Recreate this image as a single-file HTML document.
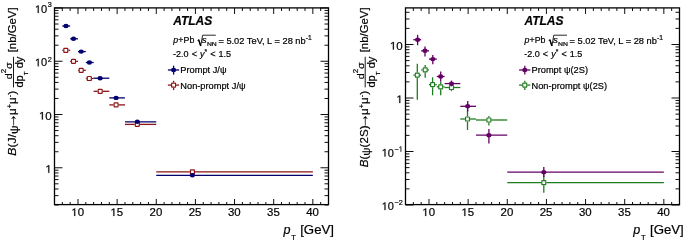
<!DOCTYPE html>
<html><head><meta charset="utf-8"><style>
html,body{margin:0;padding:0;background:#fff;}
body{width:685px;height:244px;overflow:hidden;}
svg{display:block;font-family:"Liberation Sans", sans-serif;will-change:transform;}
text{fill:#000;stroke:#000;stroke-width:0.2px;}
</style></head><body>
<svg width="685" height="244" viewBox="0 0 685 244">
<g>
<rect x="54.5" y="7.9" width="274.0" height="196.7" fill="none" stroke="#000" stroke-width="1.3"/>
<line x1="62.33" y1="205.00" x2="62.33" y2="202.00" stroke="#000" stroke-width="0.95"/>
<line x1="62.33" y1="8.00" x2="62.33" y2="11.00" stroke="#000" stroke-width="0.95"/>
<line x1="70.16" y1="205.00" x2="70.16" y2="202.00" stroke="#000" stroke-width="0.95"/>
<line x1="70.16" y1="8.00" x2="70.16" y2="11.00" stroke="#000" stroke-width="0.95"/>
<line x1="77.99" y1="205.00" x2="77.99" y2="199.00" stroke="#000" stroke-width="0.95"/>
<line x1="77.99" y1="8.00" x2="77.99" y2="14.00" stroke="#000" stroke-width="0.95"/>
<line x1="85.81" y1="205.00" x2="85.81" y2="202.00" stroke="#000" stroke-width="0.95"/>
<line x1="85.81" y1="8.00" x2="85.81" y2="11.00" stroke="#000" stroke-width="0.95"/>
<line x1="93.64" y1="205.00" x2="93.64" y2="202.00" stroke="#000" stroke-width="0.95"/>
<line x1="93.64" y1="8.00" x2="93.64" y2="11.00" stroke="#000" stroke-width="0.95"/>
<line x1="101.47" y1="205.00" x2="101.47" y2="202.00" stroke="#000" stroke-width="0.95"/>
<line x1="101.47" y1="8.00" x2="101.47" y2="11.00" stroke="#000" stroke-width="0.95"/>
<line x1="109.30" y1="205.00" x2="109.30" y2="202.00" stroke="#000" stroke-width="0.95"/>
<line x1="109.30" y1="8.00" x2="109.30" y2="11.00" stroke="#000" stroke-width="0.95"/>
<line x1="117.13" y1="205.00" x2="117.13" y2="199.00" stroke="#000" stroke-width="0.95"/>
<line x1="117.13" y1="8.00" x2="117.13" y2="14.00" stroke="#000" stroke-width="0.95"/>
<line x1="124.96" y1="205.00" x2="124.96" y2="202.00" stroke="#000" stroke-width="0.95"/>
<line x1="124.96" y1="8.00" x2="124.96" y2="11.00" stroke="#000" stroke-width="0.95"/>
<line x1="132.79" y1="205.00" x2="132.79" y2="202.00" stroke="#000" stroke-width="0.95"/>
<line x1="132.79" y1="8.00" x2="132.79" y2="11.00" stroke="#000" stroke-width="0.95"/>
<line x1="140.61" y1="205.00" x2="140.61" y2="202.00" stroke="#000" stroke-width="0.95"/>
<line x1="140.61" y1="8.00" x2="140.61" y2="11.00" stroke="#000" stroke-width="0.95"/>
<line x1="148.44" y1="205.00" x2="148.44" y2="202.00" stroke="#000" stroke-width="0.95"/>
<line x1="148.44" y1="8.00" x2="148.44" y2="11.00" stroke="#000" stroke-width="0.95"/>
<line x1="156.27" y1="205.00" x2="156.27" y2="199.00" stroke="#000" stroke-width="0.95"/>
<line x1="156.27" y1="8.00" x2="156.27" y2="14.00" stroke="#000" stroke-width="0.95"/>
<line x1="164.10" y1="205.00" x2="164.10" y2="202.00" stroke="#000" stroke-width="0.95"/>
<line x1="164.10" y1="8.00" x2="164.10" y2="11.00" stroke="#000" stroke-width="0.95"/>
<line x1="171.93" y1="205.00" x2="171.93" y2="202.00" stroke="#000" stroke-width="0.95"/>
<line x1="171.93" y1="8.00" x2="171.93" y2="11.00" stroke="#000" stroke-width="0.95"/>
<line x1="179.76" y1="205.00" x2="179.76" y2="202.00" stroke="#000" stroke-width="0.95"/>
<line x1="179.76" y1="8.00" x2="179.76" y2="11.00" stroke="#000" stroke-width="0.95"/>
<line x1="187.59" y1="205.00" x2="187.59" y2="202.00" stroke="#000" stroke-width="0.95"/>
<line x1="187.59" y1="8.00" x2="187.59" y2="11.00" stroke="#000" stroke-width="0.95"/>
<line x1="195.41" y1="205.00" x2="195.41" y2="199.00" stroke="#000" stroke-width="0.95"/>
<line x1="195.41" y1="8.00" x2="195.41" y2="14.00" stroke="#000" stroke-width="0.95"/>
<line x1="203.24" y1="205.00" x2="203.24" y2="202.00" stroke="#000" stroke-width="0.95"/>
<line x1="203.24" y1="8.00" x2="203.24" y2="11.00" stroke="#000" stroke-width="0.95"/>
<line x1="211.07" y1="205.00" x2="211.07" y2="202.00" stroke="#000" stroke-width="0.95"/>
<line x1="211.07" y1="8.00" x2="211.07" y2="11.00" stroke="#000" stroke-width="0.95"/>
<line x1="218.90" y1="205.00" x2="218.90" y2="202.00" stroke="#000" stroke-width="0.95"/>
<line x1="218.90" y1="8.00" x2="218.90" y2="11.00" stroke="#000" stroke-width="0.95"/>
<line x1="226.73" y1="205.00" x2="226.73" y2="202.00" stroke="#000" stroke-width="0.95"/>
<line x1="226.73" y1="8.00" x2="226.73" y2="11.00" stroke="#000" stroke-width="0.95"/>
<line x1="234.56" y1="205.00" x2="234.56" y2="199.00" stroke="#000" stroke-width="0.95"/>
<line x1="234.56" y1="8.00" x2="234.56" y2="14.00" stroke="#000" stroke-width="0.95"/>
<line x1="242.39" y1="205.00" x2="242.39" y2="202.00" stroke="#000" stroke-width="0.95"/>
<line x1="242.39" y1="8.00" x2="242.39" y2="11.00" stroke="#000" stroke-width="0.95"/>
<line x1="250.21" y1="205.00" x2="250.21" y2="202.00" stroke="#000" stroke-width="0.95"/>
<line x1="250.21" y1="8.00" x2="250.21" y2="11.00" stroke="#000" stroke-width="0.95"/>
<line x1="258.04" y1="205.00" x2="258.04" y2="202.00" stroke="#000" stroke-width="0.95"/>
<line x1="258.04" y1="8.00" x2="258.04" y2="11.00" stroke="#000" stroke-width="0.95"/>
<line x1="265.87" y1="205.00" x2="265.87" y2="202.00" stroke="#000" stroke-width="0.95"/>
<line x1="265.87" y1="8.00" x2="265.87" y2="11.00" stroke="#000" stroke-width="0.95"/>
<line x1="273.70" y1="205.00" x2="273.70" y2="199.00" stroke="#000" stroke-width="0.95"/>
<line x1="273.70" y1="8.00" x2="273.70" y2="14.00" stroke="#000" stroke-width="0.95"/>
<line x1="281.53" y1="205.00" x2="281.53" y2="202.00" stroke="#000" stroke-width="0.95"/>
<line x1="281.53" y1="8.00" x2="281.53" y2="11.00" stroke="#000" stroke-width="0.95"/>
<line x1="289.36" y1="205.00" x2="289.36" y2="202.00" stroke="#000" stroke-width="0.95"/>
<line x1="289.36" y1="8.00" x2="289.36" y2="11.00" stroke="#000" stroke-width="0.95"/>
<line x1="297.19" y1="205.00" x2="297.19" y2="202.00" stroke="#000" stroke-width="0.95"/>
<line x1="297.19" y1="8.00" x2="297.19" y2="11.00" stroke="#000" stroke-width="0.95"/>
<line x1="305.01" y1="205.00" x2="305.01" y2="202.00" stroke="#000" stroke-width="0.95"/>
<line x1="305.01" y1="8.00" x2="305.01" y2="11.00" stroke="#000" stroke-width="0.95"/>
<line x1="312.84" y1="205.00" x2="312.84" y2="199.00" stroke="#000" stroke-width="0.95"/>
<line x1="312.84" y1="8.00" x2="312.84" y2="14.00" stroke="#000" stroke-width="0.95"/>
<line x1="320.67" y1="205.00" x2="320.67" y2="202.00" stroke="#000" stroke-width="0.95"/>
<line x1="320.67" y1="8.00" x2="320.67" y2="11.00" stroke="#000" stroke-width="0.95"/>
<g transform="translate(71.32 216.00) scale(1.06 1)"><path transform="translate(0.000 0) scale(0.00527 -0.00527)" d="M515,0 L515,1237 L197,1010 L197,1180 L530,1409 L696,1409 L696,0 Z" fill="#000" stroke="#000" stroke-width="37.9"/><text x="6.01" y="0" font-size="10.8">0</text></g>
<g transform="translate(110.46 216.00) scale(1.06 1)"><path transform="translate(0.000 0) scale(0.00527 -0.00527)" d="M515,0 L515,1237 L197,1010 L197,1180 L530,1409 L696,1409 L696,0 Z" fill="#000" stroke="#000" stroke-width="37.9"/><text x="6.01" y="0" font-size="10.8">5</text></g>
<g transform="translate(149.60 216.00) scale(1.06 1)"><text x="0.00" y="0" font-size="10.8">20</text></g>
<g transform="translate(188.75 216.00) scale(1.06 1)"><text x="0.00" y="0" font-size="10.8">25</text></g>
<g transform="translate(227.89 216.00) scale(1.06 1)"><text x="0.00" y="0" font-size="10.8">30</text></g>
<g transform="translate(267.03 216.00) scale(1.06 1)"><text x="0.00" y="0" font-size="10.8">35</text></g>
<g transform="translate(306.18 216.00) scale(1.06 1)"><text x="0.00" y="0" font-size="10.8">40</text></g>
<line x1="54.50" y1="205.00" x2="58.50" y2="205.00" stroke="#000" stroke-width="0.95"/>
<line x1="328.50" y1="205.00" x2="324.50" y2="205.00" stroke="#000" stroke-width="0.95"/>
<line x1="54.50" y1="195.62" x2="58.50" y2="195.62" stroke="#000" stroke-width="0.95"/>
<line x1="328.50" y1="195.62" x2="324.50" y2="195.62" stroke="#000" stroke-width="0.95"/>
<line x1="54.50" y1="188.97" x2="58.50" y2="188.97" stroke="#000" stroke-width="0.95"/>
<line x1="328.50" y1="188.97" x2="324.50" y2="188.97" stroke="#000" stroke-width="0.95"/>
<line x1="54.50" y1="183.81" x2="58.50" y2="183.81" stroke="#000" stroke-width="0.95"/>
<line x1="328.50" y1="183.81" x2="324.50" y2="183.81" stroke="#000" stroke-width="0.95"/>
<line x1="54.50" y1="179.59" x2="58.50" y2="179.59" stroke="#000" stroke-width="0.95"/>
<line x1="328.50" y1="179.59" x2="324.50" y2="179.59" stroke="#000" stroke-width="0.95"/>
<line x1="54.50" y1="176.02" x2="58.50" y2="176.02" stroke="#000" stroke-width="0.95"/>
<line x1="328.50" y1="176.02" x2="324.50" y2="176.02" stroke="#000" stroke-width="0.95"/>
<line x1="54.50" y1="172.94" x2="58.50" y2="172.94" stroke="#000" stroke-width="0.95"/>
<line x1="328.50" y1="172.94" x2="324.50" y2="172.94" stroke="#000" stroke-width="0.95"/>
<line x1="54.50" y1="170.21" x2="58.50" y2="170.21" stroke="#000" stroke-width="0.95"/>
<line x1="328.50" y1="170.21" x2="324.50" y2="170.21" stroke="#000" stroke-width="0.95"/>
<line x1="54.50" y1="167.77" x2="62.50" y2="167.77" stroke="#000" stroke-width="0.95"/>
<line x1="328.50" y1="167.77" x2="320.50" y2="167.77" stroke="#000" stroke-width="0.95"/>
<line x1="54.50" y1="151.74" x2="58.50" y2="151.74" stroke="#000" stroke-width="0.95"/>
<line x1="328.50" y1="151.74" x2="324.50" y2="151.74" stroke="#000" stroke-width="0.95"/>
<line x1="54.50" y1="142.36" x2="58.50" y2="142.36" stroke="#000" stroke-width="0.95"/>
<line x1="328.50" y1="142.36" x2="324.50" y2="142.36" stroke="#000" stroke-width="0.95"/>
<line x1="54.50" y1="135.71" x2="58.50" y2="135.71" stroke="#000" stroke-width="0.95"/>
<line x1="328.50" y1="135.71" x2="324.50" y2="135.71" stroke="#000" stroke-width="0.95"/>
<line x1="54.50" y1="130.55" x2="58.50" y2="130.55" stroke="#000" stroke-width="0.95"/>
<line x1="328.50" y1="130.55" x2="324.50" y2="130.55" stroke="#000" stroke-width="0.95"/>
<line x1="54.50" y1="126.33" x2="58.50" y2="126.33" stroke="#000" stroke-width="0.95"/>
<line x1="328.50" y1="126.33" x2="324.50" y2="126.33" stroke="#000" stroke-width="0.95"/>
<line x1="54.50" y1="122.77" x2="58.50" y2="122.77" stroke="#000" stroke-width="0.95"/>
<line x1="328.50" y1="122.77" x2="324.50" y2="122.77" stroke="#000" stroke-width="0.95"/>
<line x1="54.50" y1="119.68" x2="58.50" y2="119.68" stroke="#000" stroke-width="0.95"/>
<line x1="328.50" y1="119.68" x2="324.50" y2="119.68" stroke="#000" stroke-width="0.95"/>
<line x1="54.50" y1="116.95" x2="58.50" y2="116.95" stroke="#000" stroke-width="0.95"/>
<line x1="328.50" y1="116.95" x2="324.50" y2="116.95" stroke="#000" stroke-width="0.95"/>
<line x1="54.50" y1="114.52" x2="62.50" y2="114.52" stroke="#000" stroke-width="0.95"/>
<line x1="328.50" y1="114.52" x2="320.50" y2="114.52" stroke="#000" stroke-width="0.95"/>
<line x1="54.50" y1="98.48" x2="58.50" y2="98.48" stroke="#000" stroke-width="0.95"/>
<line x1="328.50" y1="98.48" x2="324.50" y2="98.48" stroke="#000" stroke-width="0.95"/>
<line x1="54.50" y1="89.11" x2="58.50" y2="89.11" stroke="#000" stroke-width="0.95"/>
<line x1="328.50" y1="89.11" x2="324.50" y2="89.11" stroke="#000" stroke-width="0.95"/>
<line x1="54.50" y1="82.45" x2="58.50" y2="82.45" stroke="#000" stroke-width="0.95"/>
<line x1="328.50" y1="82.45" x2="324.50" y2="82.45" stroke="#000" stroke-width="0.95"/>
<line x1="54.50" y1="77.29" x2="58.50" y2="77.29" stroke="#000" stroke-width="0.95"/>
<line x1="328.50" y1="77.29" x2="324.50" y2="77.29" stroke="#000" stroke-width="0.95"/>
<line x1="54.50" y1="73.07" x2="58.50" y2="73.07" stroke="#000" stroke-width="0.95"/>
<line x1="328.50" y1="73.07" x2="324.50" y2="73.07" stroke="#000" stroke-width="0.95"/>
<line x1="54.50" y1="69.51" x2="58.50" y2="69.51" stroke="#000" stroke-width="0.95"/>
<line x1="328.50" y1="69.51" x2="324.50" y2="69.51" stroke="#000" stroke-width="0.95"/>
<line x1="54.50" y1="66.42" x2="58.50" y2="66.42" stroke="#000" stroke-width="0.95"/>
<line x1="328.50" y1="66.42" x2="324.50" y2="66.42" stroke="#000" stroke-width="0.95"/>
<line x1="54.50" y1="63.70" x2="58.50" y2="63.70" stroke="#000" stroke-width="0.95"/>
<line x1="328.50" y1="63.70" x2="324.50" y2="63.70" stroke="#000" stroke-width="0.95"/>
<line x1="54.50" y1="61.26" x2="62.50" y2="61.26" stroke="#000" stroke-width="0.95"/>
<line x1="328.50" y1="61.26" x2="320.50" y2="61.26" stroke="#000" stroke-width="0.95"/>
<line x1="54.50" y1="45.23" x2="58.50" y2="45.23" stroke="#000" stroke-width="0.95"/>
<line x1="328.50" y1="45.23" x2="324.50" y2="45.23" stroke="#000" stroke-width="0.95"/>
<line x1="54.50" y1="35.85" x2="58.50" y2="35.85" stroke="#000" stroke-width="0.95"/>
<line x1="328.50" y1="35.85" x2="324.50" y2="35.85" stroke="#000" stroke-width="0.95"/>
<line x1="54.50" y1="29.19" x2="58.50" y2="29.19" stroke="#000" stroke-width="0.95"/>
<line x1="328.50" y1="29.19" x2="324.50" y2="29.19" stroke="#000" stroke-width="0.95"/>
<line x1="54.50" y1="24.03" x2="58.50" y2="24.03" stroke="#000" stroke-width="0.95"/>
<line x1="328.50" y1="24.03" x2="324.50" y2="24.03" stroke="#000" stroke-width="0.95"/>
<line x1="54.50" y1="19.82" x2="58.50" y2="19.82" stroke="#000" stroke-width="0.95"/>
<line x1="328.50" y1="19.82" x2="324.50" y2="19.82" stroke="#000" stroke-width="0.95"/>
<line x1="54.50" y1="16.25" x2="58.50" y2="16.25" stroke="#000" stroke-width="0.95"/>
<line x1="328.50" y1="16.25" x2="324.50" y2="16.25" stroke="#000" stroke-width="0.95"/>
<line x1="54.50" y1="13.16" x2="58.50" y2="13.16" stroke="#000" stroke-width="0.95"/>
<line x1="328.50" y1="13.16" x2="324.50" y2="13.16" stroke="#000" stroke-width="0.95"/>
<line x1="54.50" y1="10.44" x2="58.50" y2="10.44" stroke="#000" stroke-width="0.95"/>
<line x1="328.50" y1="10.44" x2="324.50" y2="10.44" stroke="#000" stroke-width="0.95"/>
<line x1="54.50" y1="8.00" x2="62.50" y2="8.00" stroke="#000" stroke-width="0.95"/>
<line x1="328.50" y1="8.00" x2="320.50" y2="8.00" stroke="#000" stroke-width="0.95"/>
<rect x="405.5" y="7.9" width="274.0" height="196.7" fill="none" stroke="#000" stroke-width="1.3"/>
<line x1="413.33" y1="205.00" x2="413.33" y2="202.00" stroke="#000" stroke-width="0.95"/>
<line x1="413.33" y1="8.00" x2="413.33" y2="11.00" stroke="#000" stroke-width="0.95"/>
<line x1="421.16" y1="205.00" x2="421.16" y2="202.00" stroke="#000" stroke-width="0.95"/>
<line x1="421.16" y1="8.00" x2="421.16" y2="11.00" stroke="#000" stroke-width="0.95"/>
<line x1="428.99" y1="205.00" x2="428.99" y2="199.00" stroke="#000" stroke-width="0.95"/>
<line x1="428.99" y1="8.00" x2="428.99" y2="14.00" stroke="#000" stroke-width="0.95"/>
<line x1="436.81" y1="205.00" x2="436.81" y2="202.00" stroke="#000" stroke-width="0.95"/>
<line x1="436.81" y1="8.00" x2="436.81" y2="11.00" stroke="#000" stroke-width="0.95"/>
<line x1="444.64" y1="205.00" x2="444.64" y2="202.00" stroke="#000" stroke-width="0.95"/>
<line x1="444.64" y1="8.00" x2="444.64" y2="11.00" stroke="#000" stroke-width="0.95"/>
<line x1="452.47" y1="205.00" x2="452.47" y2="202.00" stroke="#000" stroke-width="0.95"/>
<line x1="452.47" y1="8.00" x2="452.47" y2="11.00" stroke="#000" stroke-width="0.95"/>
<line x1="460.30" y1="205.00" x2="460.30" y2="202.00" stroke="#000" stroke-width="0.95"/>
<line x1="460.30" y1="8.00" x2="460.30" y2="11.00" stroke="#000" stroke-width="0.95"/>
<line x1="468.13" y1="205.00" x2="468.13" y2="199.00" stroke="#000" stroke-width="0.95"/>
<line x1="468.13" y1="8.00" x2="468.13" y2="14.00" stroke="#000" stroke-width="0.95"/>
<line x1="475.96" y1="205.00" x2="475.96" y2="202.00" stroke="#000" stroke-width="0.95"/>
<line x1="475.96" y1="8.00" x2="475.96" y2="11.00" stroke="#000" stroke-width="0.95"/>
<line x1="483.79" y1="205.00" x2="483.79" y2="202.00" stroke="#000" stroke-width="0.95"/>
<line x1="483.79" y1="8.00" x2="483.79" y2="11.00" stroke="#000" stroke-width="0.95"/>
<line x1="491.61" y1="205.00" x2="491.61" y2="202.00" stroke="#000" stroke-width="0.95"/>
<line x1="491.61" y1="8.00" x2="491.61" y2="11.00" stroke="#000" stroke-width="0.95"/>
<line x1="499.44" y1="205.00" x2="499.44" y2="202.00" stroke="#000" stroke-width="0.95"/>
<line x1="499.44" y1="8.00" x2="499.44" y2="11.00" stroke="#000" stroke-width="0.95"/>
<line x1="507.27" y1="205.00" x2="507.27" y2="199.00" stroke="#000" stroke-width="0.95"/>
<line x1="507.27" y1="8.00" x2="507.27" y2="14.00" stroke="#000" stroke-width="0.95"/>
<line x1="515.10" y1="205.00" x2="515.10" y2="202.00" stroke="#000" stroke-width="0.95"/>
<line x1="515.10" y1="8.00" x2="515.10" y2="11.00" stroke="#000" stroke-width="0.95"/>
<line x1="522.93" y1="205.00" x2="522.93" y2="202.00" stroke="#000" stroke-width="0.95"/>
<line x1="522.93" y1="8.00" x2="522.93" y2="11.00" stroke="#000" stroke-width="0.95"/>
<line x1="530.76" y1="205.00" x2="530.76" y2="202.00" stroke="#000" stroke-width="0.95"/>
<line x1="530.76" y1="8.00" x2="530.76" y2="11.00" stroke="#000" stroke-width="0.95"/>
<line x1="538.59" y1="205.00" x2="538.59" y2="202.00" stroke="#000" stroke-width="0.95"/>
<line x1="538.59" y1="8.00" x2="538.59" y2="11.00" stroke="#000" stroke-width="0.95"/>
<line x1="546.41" y1="205.00" x2="546.41" y2="199.00" stroke="#000" stroke-width="0.95"/>
<line x1="546.41" y1="8.00" x2="546.41" y2="14.00" stroke="#000" stroke-width="0.95"/>
<line x1="554.24" y1="205.00" x2="554.24" y2="202.00" stroke="#000" stroke-width="0.95"/>
<line x1="554.24" y1="8.00" x2="554.24" y2="11.00" stroke="#000" stroke-width="0.95"/>
<line x1="562.07" y1="205.00" x2="562.07" y2="202.00" stroke="#000" stroke-width="0.95"/>
<line x1="562.07" y1="8.00" x2="562.07" y2="11.00" stroke="#000" stroke-width="0.95"/>
<line x1="569.90" y1="205.00" x2="569.90" y2="202.00" stroke="#000" stroke-width="0.95"/>
<line x1="569.90" y1="8.00" x2="569.90" y2="11.00" stroke="#000" stroke-width="0.95"/>
<line x1="577.73" y1="205.00" x2="577.73" y2="202.00" stroke="#000" stroke-width="0.95"/>
<line x1="577.73" y1="8.00" x2="577.73" y2="11.00" stroke="#000" stroke-width="0.95"/>
<line x1="585.56" y1="205.00" x2="585.56" y2="199.00" stroke="#000" stroke-width="0.95"/>
<line x1="585.56" y1="8.00" x2="585.56" y2="14.00" stroke="#000" stroke-width="0.95"/>
<line x1="593.39" y1="205.00" x2="593.39" y2="202.00" stroke="#000" stroke-width="0.95"/>
<line x1="593.39" y1="8.00" x2="593.39" y2="11.00" stroke="#000" stroke-width="0.95"/>
<line x1="601.21" y1="205.00" x2="601.21" y2="202.00" stroke="#000" stroke-width="0.95"/>
<line x1="601.21" y1="8.00" x2="601.21" y2="11.00" stroke="#000" stroke-width="0.95"/>
<line x1="609.04" y1="205.00" x2="609.04" y2="202.00" stroke="#000" stroke-width="0.95"/>
<line x1="609.04" y1="8.00" x2="609.04" y2="11.00" stroke="#000" stroke-width="0.95"/>
<line x1="616.87" y1="205.00" x2="616.87" y2="202.00" stroke="#000" stroke-width="0.95"/>
<line x1="616.87" y1="8.00" x2="616.87" y2="11.00" stroke="#000" stroke-width="0.95"/>
<line x1="624.70" y1="205.00" x2="624.70" y2="199.00" stroke="#000" stroke-width="0.95"/>
<line x1="624.70" y1="8.00" x2="624.70" y2="14.00" stroke="#000" stroke-width="0.95"/>
<line x1="632.53" y1="205.00" x2="632.53" y2="202.00" stroke="#000" stroke-width="0.95"/>
<line x1="632.53" y1="8.00" x2="632.53" y2="11.00" stroke="#000" stroke-width="0.95"/>
<line x1="640.36" y1="205.00" x2="640.36" y2="202.00" stroke="#000" stroke-width="0.95"/>
<line x1="640.36" y1="8.00" x2="640.36" y2="11.00" stroke="#000" stroke-width="0.95"/>
<line x1="648.19" y1="205.00" x2="648.19" y2="202.00" stroke="#000" stroke-width="0.95"/>
<line x1="648.19" y1="8.00" x2="648.19" y2="11.00" stroke="#000" stroke-width="0.95"/>
<line x1="656.01" y1="205.00" x2="656.01" y2="202.00" stroke="#000" stroke-width="0.95"/>
<line x1="656.01" y1="8.00" x2="656.01" y2="11.00" stroke="#000" stroke-width="0.95"/>
<line x1="663.84" y1="205.00" x2="663.84" y2="199.00" stroke="#000" stroke-width="0.95"/>
<line x1="663.84" y1="8.00" x2="663.84" y2="14.00" stroke="#000" stroke-width="0.95"/>
<line x1="671.67" y1="205.00" x2="671.67" y2="202.00" stroke="#000" stroke-width="0.95"/>
<line x1="671.67" y1="8.00" x2="671.67" y2="11.00" stroke="#000" stroke-width="0.95"/>
<g transform="translate(422.32 216.00) scale(1.06 1)"><path transform="translate(0.000 0) scale(0.00527 -0.00527)" d="M515,0 L515,1237 L197,1010 L197,1180 L530,1409 L696,1409 L696,0 Z" fill="#000" stroke="#000" stroke-width="37.9"/><text x="6.01" y="0" font-size="10.8">0</text></g>
<g transform="translate(461.46 216.00) scale(1.06 1)"><path transform="translate(0.000 0) scale(0.00527 -0.00527)" d="M515,0 L515,1237 L197,1010 L197,1180 L530,1409 L696,1409 L696,0 Z" fill="#000" stroke="#000" stroke-width="37.9"/><text x="6.01" y="0" font-size="10.8">5</text></g>
<g transform="translate(500.60 216.00) scale(1.06 1)"><text x="0.00" y="0" font-size="10.8">20</text></g>
<g transform="translate(539.75 216.00) scale(1.06 1)"><text x="0.00" y="0" font-size="10.8">25</text></g>
<g transform="translate(578.89 216.00) scale(1.06 1)"><text x="0.00" y="0" font-size="10.8">30</text></g>
<g transform="translate(618.03 216.00) scale(1.06 1)"><text x="0.00" y="0" font-size="10.8">35</text></g>
<g transform="translate(657.18 216.00) scale(1.06 1)"><text x="0.00" y="0" font-size="10.8">40</text></g>
<line x1="405.50" y1="205.00" x2="413.50" y2="205.00" stroke="#000" stroke-width="0.95"/>
<line x1="679.50" y1="205.00" x2="671.50" y2="205.00" stroke="#000" stroke-width="0.95"/>
<line x1="405.50" y1="188.89" x2="409.50" y2="188.89" stroke="#000" stroke-width="0.95"/>
<line x1="679.50" y1="188.89" x2="675.50" y2="188.89" stroke="#000" stroke-width="0.95"/>
<line x1="405.50" y1="179.47" x2="409.50" y2="179.47" stroke="#000" stroke-width="0.95"/>
<line x1="679.50" y1="179.47" x2="675.50" y2="179.47" stroke="#000" stroke-width="0.95"/>
<line x1="405.50" y1="172.79" x2="409.50" y2="172.79" stroke="#000" stroke-width="0.95"/>
<line x1="679.50" y1="172.79" x2="675.50" y2="172.79" stroke="#000" stroke-width="0.95"/>
<line x1="405.50" y1="167.61" x2="409.50" y2="167.61" stroke="#000" stroke-width="0.95"/>
<line x1="679.50" y1="167.61" x2="675.50" y2="167.61" stroke="#000" stroke-width="0.95"/>
<line x1="405.50" y1="163.37" x2="409.50" y2="163.37" stroke="#000" stroke-width="0.95"/>
<line x1="679.50" y1="163.37" x2="675.50" y2="163.37" stroke="#000" stroke-width="0.95"/>
<line x1="405.50" y1="159.79" x2="409.50" y2="159.79" stroke="#000" stroke-width="0.95"/>
<line x1="679.50" y1="159.79" x2="675.50" y2="159.79" stroke="#000" stroke-width="0.95"/>
<line x1="405.50" y1="156.68" x2="409.50" y2="156.68" stroke="#000" stroke-width="0.95"/>
<line x1="679.50" y1="156.68" x2="675.50" y2="156.68" stroke="#000" stroke-width="0.95"/>
<line x1="405.50" y1="153.95" x2="409.50" y2="153.95" stroke="#000" stroke-width="0.95"/>
<line x1="679.50" y1="153.95" x2="675.50" y2="153.95" stroke="#000" stroke-width="0.95"/>
<line x1="405.50" y1="151.50" x2="413.50" y2="151.50" stroke="#000" stroke-width="0.95"/>
<line x1="679.50" y1="151.50" x2="671.50" y2="151.50" stroke="#000" stroke-width="0.95"/>
<line x1="405.50" y1="135.39" x2="409.50" y2="135.39" stroke="#000" stroke-width="0.95"/>
<line x1="679.50" y1="135.39" x2="675.50" y2="135.39" stroke="#000" stroke-width="0.95"/>
<line x1="405.50" y1="125.97" x2="409.50" y2="125.97" stroke="#000" stroke-width="0.95"/>
<line x1="679.50" y1="125.97" x2="675.50" y2="125.97" stroke="#000" stroke-width="0.95"/>
<line x1="405.50" y1="119.29" x2="409.50" y2="119.29" stroke="#000" stroke-width="0.95"/>
<line x1="679.50" y1="119.29" x2="675.50" y2="119.29" stroke="#000" stroke-width="0.95"/>
<line x1="405.50" y1="114.11" x2="409.50" y2="114.11" stroke="#000" stroke-width="0.95"/>
<line x1="679.50" y1="114.11" x2="675.50" y2="114.11" stroke="#000" stroke-width="0.95"/>
<line x1="405.50" y1="109.87" x2="409.50" y2="109.87" stroke="#000" stroke-width="0.95"/>
<line x1="679.50" y1="109.87" x2="675.50" y2="109.87" stroke="#000" stroke-width="0.95"/>
<line x1="405.50" y1="106.29" x2="409.50" y2="106.29" stroke="#000" stroke-width="0.95"/>
<line x1="679.50" y1="106.29" x2="675.50" y2="106.29" stroke="#000" stroke-width="0.95"/>
<line x1="405.50" y1="103.18" x2="409.50" y2="103.18" stroke="#000" stroke-width="0.95"/>
<line x1="679.50" y1="103.18" x2="675.50" y2="103.18" stroke="#000" stroke-width="0.95"/>
<line x1="405.50" y1="100.45" x2="409.50" y2="100.45" stroke="#000" stroke-width="0.95"/>
<line x1="679.50" y1="100.45" x2="675.50" y2="100.45" stroke="#000" stroke-width="0.95"/>
<line x1="405.50" y1="98.00" x2="413.50" y2="98.00" stroke="#000" stroke-width="0.95"/>
<line x1="679.50" y1="98.00" x2="671.50" y2="98.00" stroke="#000" stroke-width="0.95"/>
<line x1="405.50" y1="81.89" x2="409.50" y2="81.89" stroke="#000" stroke-width="0.95"/>
<line x1="679.50" y1="81.89" x2="675.50" y2="81.89" stroke="#000" stroke-width="0.95"/>
<line x1="405.50" y1="72.47" x2="409.50" y2="72.47" stroke="#000" stroke-width="0.95"/>
<line x1="679.50" y1="72.47" x2="675.50" y2="72.47" stroke="#000" stroke-width="0.95"/>
<line x1="405.50" y1="65.79" x2="409.50" y2="65.79" stroke="#000" stroke-width="0.95"/>
<line x1="679.50" y1="65.79" x2="675.50" y2="65.79" stroke="#000" stroke-width="0.95"/>
<line x1="405.50" y1="60.61" x2="409.50" y2="60.61" stroke="#000" stroke-width="0.95"/>
<line x1="679.50" y1="60.61" x2="675.50" y2="60.61" stroke="#000" stroke-width="0.95"/>
<line x1="405.50" y1="56.37" x2="409.50" y2="56.37" stroke="#000" stroke-width="0.95"/>
<line x1="679.50" y1="56.37" x2="675.50" y2="56.37" stroke="#000" stroke-width="0.95"/>
<line x1="405.50" y1="52.79" x2="409.50" y2="52.79" stroke="#000" stroke-width="0.95"/>
<line x1="679.50" y1="52.79" x2="675.50" y2="52.79" stroke="#000" stroke-width="0.95"/>
<line x1="405.50" y1="49.68" x2="409.50" y2="49.68" stroke="#000" stroke-width="0.95"/>
<line x1="679.50" y1="49.68" x2="675.50" y2="49.68" stroke="#000" stroke-width="0.95"/>
<line x1="405.50" y1="46.95" x2="409.50" y2="46.95" stroke="#000" stroke-width="0.95"/>
<line x1="679.50" y1="46.95" x2="675.50" y2="46.95" stroke="#000" stroke-width="0.95"/>
<line x1="405.50" y1="44.50" x2="413.50" y2="44.50" stroke="#000" stroke-width="0.95"/>
<line x1="679.50" y1="44.50" x2="671.50" y2="44.50" stroke="#000" stroke-width="0.95"/>
<line x1="405.50" y1="28.39" x2="409.50" y2="28.39" stroke="#000" stroke-width="0.95"/>
<line x1="679.50" y1="28.39" x2="675.50" y2="28.39" stroke="#000" stroke-width="0.95"/>
<line x1="405.50" y1="18.97" x2="409.50" y2="18.97" stroke="#000" stroke-width="0.95"/>
<line x1="679.50" y1="18.97" x2="675.50" y2="18.97" stroke="#000" stroke-width="0.95"/>
<line x1="405.50" y1="12.29" x2="409.50" y2="12.29" stroke="#000" stroke-width="0.95"/>
<line x1="679.50" y1="12.29" x2="675.50" y2="12.29" stroke="#000" stroke-width="0.95"/>
<g transform="translate(34.95 13.10) scale(1.0 1)"><path transform="translate(0.000 0) scale(0.00537 -0.00537)" d="M515,0 L515,1237 L197,1010 L197,1180 L530,1409 L696,1409 L696,0 Z" fill="#000" stroke="#000" stroke-width="37.2"/><text x="6.12" y="0" font-size="11.0">0</text></g>
<g transform="translate(47.78 6.80) scale(0.95 1)"><text x="0.00" y="0" font-size="7.6">3</text></g>
<g transform="translate(34.95 66.36) scale(1.0 1)"><path transform="translate(0.000 0) scale(0.00537 -0.00537)" d="M515,0 L515,1237 L197,1010 L197,1180 L530,1409 L696,1409 L696,0 Z" fill="#000" stroke="#000" stroke-width="37.2"/><text x="6.12" y="0" font-size="11.0">0</text></g>
<g transform="translate(47.78 61.76) scale(0.95 1)"><text x="0.00" y="0" font-size="7.6">2</text></g>
<g transform="translate(38.95 119.62) scale(1.05 1)"><path transform="translate(0.000 0) scale(0.00537 -0.00537)" d="M515,0 L515,1237 L197,1010 L197,1180 L530,1409 L696,1409 L696,0 Z" fill="#000" stroke="#000" stroke-width="37.2"/><text x="6.12" y="0" font-size="11.0">0</text></g>
<g transform="translate(45.38 172.87) scale(1.05 1)"><path transform="translate(0.000 0) scale(0.00537 -0.00537)" d="M515,0 L515,1237 L197,1010 L197,1180 L530,1409 L696,1409 L696,0 Z" fill="#000" stroke="#000" stroke-width="37.2"/></g>
<g transform="translate(389.95 49.60) scale(1.05 1)"><path transform="translate(0.000 0) scale(0.00537 -0.00537)" d="M515,0 L515,1237 L197,1010 L197,1180 L530,1409 L696,1409 L696,0 Z" fill="#000" stroke="#000" stroke-width="37.2"/><text x="6.12" y="0" font-size="11.0">0</text></g>
<g transform="translate(396.38 103.10) scale(1.05 1)"><path transform="translate(0.000 0) scale(0.00537 -0.00537)" d="M515,0 L515,1237 L197,1010 L197,1180 L530,1409 L696,1409 L696,0 Z" fill="#000" stroke="#000" stroke-width="37.2"/></g>
<g transform="translate(381.73 156.60) scale(1.0 1)"><path transform="translate(0.000 0) scale(0.00537 -0.00537)" d="M515,0 L515,1237 L197,1010 L197,1180 L530,1409 L696,1409 L696,0 Z" fill="#000" stroke="#000" stroke-width="37.2"/><text x="6.12" y="0" font-size="11.0">0</text></g>
<g transform="translate(394.57 151.70) scale(0.95 1)"><text x="0.00" y="0" font-size="7.6">−</text><path transform="translate(4.438 0) scale(0.00371 -0.00371)" d="M515,0 L515,1237 L197,1010 L197,1180 L530,1409 L696,1409 L696,0 Z" fill="#000" stroke="#000" stroke-width="53.9"/></g>
<g transform="translate(381.73 210.10) scale(1.0 1)"><path transform="translate(0.000 0) scale(0.00537 -0.00537)" d="M515,0 L515,1237 L197,1010 L197,1180 L530,1409 L696,1409 L696,0 Z" fill="#000" stroke="#000" stroke-width="37.2"/><text x="6.12" y="0" font-size="11.0">0</text></g>
<g transform="translate(394.57 205.20) scale(0.95 1)"><text x="0.00" y="0" font-size="7.6">&#8722;2</text></g>
<text x="283.40" y="234" font-size="12.6" font-style="italic">p</text>
<text x="291.20" y="240.4" font-size="7.6">T</text>
<text x="300.20" y="234" font-size="12.6" textLength="33.8" lengthAdjust="spacingAndGlyphs">[GeV]</text>
<text x="633.20" y="234" font-size="12.6" font-style="italic">p</text>
<text x="641.00" y="240.4" font-size="7.6">T</text>
<text x="650.00" y="234" font-size="12.6" textLength="33.8" lengthAdjust="spacingAndGlyphs">[GeV]</text>
<g transform="translate(16.4,0) rotate(-90)"><text x="-155.70" y="0" font-size="11.3" textLength="30.30" lengthAdjust="spacingAndGlyphs" ><tspan font-style="italic">B</tspan>(J/<tspan dy="1.6">&#968;</tspan></text><line x1="-125.60" y1="-2.8" x2="-117.50" y2="-2.8" stroke="#000" stroke-width="0.75"/><path d="M-116.00,-2.8 L-119.00,-5.40 L-118.10,-2.8 L-119.00,-0.20 Z" fill="#000"/><text x="-114.90" y="0" font-size="11.3" textLength="24.00" lengthAdjust="spacingAndGlyphs" >&#956;<tspan font-size="7" dy="-4.6">+</tspan><tspan dy="4.6">&#956;</tspan><tspan font-size="7" dy="-4.6">-</tspan><tspan dy="4.6">)</tspan></text><line x1="-87.40" y1="-2.9" x2="-56.80" y2="-2.9" stroke="#000" stroke-width="0.9"/><text x="-79.30" y="-4.5" font-size="9.8" textLength="16.90" lengthAdjust="spacingAndGlyphs">d<tspan font-size="7.35" dy="-5.6">2</tspan><tspan dy="5.6">&#963;</tspan></text><text x="-87.60" y="6.6" font-size="10.4" textLength="31.00" lengthAdjust="spacingAndGlyphs">dp<tspan font-size="5.82" dy="5.0">T</tspan><tspan dy="-5.0"> dy</tspan></text><text x="-52.30" y="0" font-size="11.3" textLength="44.90" lengthAdjust="spacingAndGlyphs" >[nb/GeV]</text></g>
<g transform="translate(368.1,0) rotate(-90)"><text x="-167.30" y="0" font-size="11.3" textLength="41.80" lengthAdjust="spacingAndGlyphs" ><tspan font-style="italic">B</tspan>(<tspan dy="1.6">&#968;</tspan><tspan dy="-1.6">(2S)</tspan></text><line x1="-125.60" y1="-2.8" x2="-117.50" y2="-2.8" stroke="#000" stroke-width="0.75"/><path d="M-116.00,-2.8 L-119.00,-5.40 L-118.10,-2.8 L-119.00,-0.20 Z" fill="#000"/><text x="-114.90" y="0" font-size="11.3" textLength="24.00" lengthAdjust="spacingAndGlyphs" >&#956;<tspan font-size="7" dy="-4.6">+</tspan><tspan dy="4.6">&#956;</tspan><tspan font-size="7" dy="-4.6">-</tspan><tspan dy="4.6">)</tspan></text><line x1="-87.40" y1="-2.9" x2="-56.80" y2="-2.9" stroke="#000" stroke-width="0.9"/><text x="-79.30" y="-4.5" font-size="9.8" textLength="16.90" lengthAdjust="spacingAndGlyphs">d<tspan font-size="7.35" dy="-5.6">2</tspan><tspan dy="5.6">&#963;</tspan></text><text x="-87.60" y="6.6" font-size="10.4" textLength="31.00" lengthAdjust="spacingAndGlyphs">dp<tspan font-size="5.82" dy="5.0">T</tspan><tspan dy="-5.0"> dy</tspan></text><text x="-52.30" y="0" font-size="11.3" textLength="44.90" lengthAdjust="spacingAndGlyphs" >[nb/GeV]</text></g>
<line x1="62.33" y1="50.30" x2="63.20" y2="50.30" stroke="#8c1414" stroke-width="1.3"/>
<line x1="68.40" y1="50.30" x2="70.16" y2="50.30" stroke="#8c1414" stroke-width="1.3"/>
<rect x="63.80" y="48.30" width="4.00" height="4.00" rx="0.6" fill="none" stroke="#8c1414" stroke-width="1.2"/>
<line x1="70.16" y1="61.30" x2="70.90" y2="61.30" stroke="#8c1414" stroke-width="1.3"/>
<line x1="76.10" y1="61.30" x2="77.99" y2="61.30" stroke="#8c1414" stroke-width="1.3"/>
<rect x="71.50" y="59.30" width="4.00" height="4.00" rx="0.6" fill="none" stroke="#8c1414" stroke-width="1.2"/>
<line x1="77.99" y1="70.30" x2="78.60" y2="70.30" stroke="#8c1414" stroke-width="1.3"/>
<line x1="83.80" y1="70.30" x2="85.81" y2="70.30" stroke="#8c1414" stroke-width="1.3"/>
<rect x="79.20" y="68.30" width="4.00" height="4.00" rx="0.6" fill="none" stroke="#8c1414" stroke-width="1.2"/>
<line x1="85.81" y1="78.50" x2="86.70" y2="78.50" stroke="#8c1414" stroke-width="1.3"/>
<line x1="91.90" y1="78.50" x2="93.64" y2="78.50" stroke="#8c1414" stroke-width="1.3"/>
<rect x="87.30" y="76.50" width="4.00" height="4.00" rx="0.6" fill="none" stroke="#8c1414" stroke-width="1.2"/>
<line x1="93.64" y1="91.30" x2="97.60" y2="91.30" stroke="#8c1414" stroke-width="1.3"/>
<line x1="102.80" y1="91.30" x2="109.30" y2="91.30" stroke="#8c1414" stroke-width="1.3"/>
<rect x="98.20" y="89.30" width="4.00" height="4.00" rx="0.6" fill="none" stroke="#8c1414" stroke-width="1.2"/>
<line x1="109.30" y1="104.90" x2="113.50" y2="104.90" stroke="#8c1414" stroke-width="1.3"/>
<line x1="118.70" y1="104.90" x2="124.96" y2="104.90" stroke="#8c1414" stroke-width="1.3"/>
<rect x="114.10" y="102.90" width="4.00" height="4.00" rx="0.6" fill="none" stroke="#8c1414" stroke-width="1.2"/>
<line x1="124.96" y1="124.40" x2="134.70" y2="124.40" stroke="#8c1414" stroke-width="1.3"/>
<line x1="139.90" y1="124.40" x2="156.27" y2="124.40" stroke="#8c1414" stroke-width="1.3"/>
<rect x="135.30" y="122.40" width="4.00" height="4.00" rx="0.6" fill="none" stroke="#8c1414" stroke-width="1.2"/>
<line x1="156.27" y1="171.80" x2="189.80" y2="171.80" stroke="#8c1414" stroke-width="1.3"/>
<line x1="195.00" y1="171.80" x2="312.84" y2="171.80" stroke="#8c1414" stroke-width="1.3"/>
<rect x="190.40" y="169.80" width="4.00" height="4.00" rx="0.6" fill="none" stroke="#8c1414" stroke-width="1.2"/>
<line x1="62.33" y1="26.00" x2="70.16" y2="26.00" stroke="#00006e" stroke-width="1.3"/>
<ellipse cx="66.00" cy="26.00" rx="2.6" ry="2.2" fill="#00006e"/>
<line x1="70.16" y1="38.80" x2="77.99" y2="38.80" stroke="#00006e" stroke-width="1.3"/>
<ellipse cx="73.50" cy="38.80" rx="2.6" ry="2.2" fill="#00006e"/>
<line x1="77.99" y1="51.60" x2="85.81" y2="51.60" stroke="#00006e" stroke-width="1.3"/>
<ellipse cx="81.20" cy="51.60" rx="2.6" ry="2.2" fill="#00006e"/>
<line x1="85.81" y1="62.50" x2="93.64" y2="62.50" stroke="#00006e" stroke-width="1.3"/>
<ellipse cx="89.40" cy="62.50" rx="2.6" ry="2.2" fill="#00006e"/>
<line x1="93.64" y1="78.20" x2="109.30" y2="78.20" stroke="#00006e" stroke-width="1.3"/>
<ellipse cx="100.10" cy="78.20" rx="2.6" ry="2.2" fill="#00006e"/>
<line x1="109.30" y1="97.90" x2="124.96" y2="97.90" stroke="#00006e" stroke-width="1.3"/>
<ellipse cx="116.10" cy="97.90" rx="2.6" ry="2.2" fill="#00006e"/>
<line x1="124.96" y1="121.80" x2="156.27" y2="121.80" stroke="#00006e" stroke-width="1.3"/>
<ellipse cx="137.30" cy="121.80" rx="2.6" ry="2.2" fill="#00006e"/>
<line x1="156.27" y1="175.30" x2="312.84" y2="175.30" stroke="#00006e" stroke-width="1.3"/>
<ellipse cx="192.40" cy="175.30" rx="2.6" ry="2.2" fill="#00006e"/>
<line x1="413.33" y1="75.20" x2="414.70" y2="75.20" stroke="#1e7d1e" stroke-width="1.3"/>
<line x1="419.90" y1="75.20" x2="421.16" y2="75.20" stroke="#1e7d1e" stroke-width="1.3"/>
<line x1="417.30" y1="63.70" x2="417.30" y2="72.60" stroke="#1e7d1e" stroke-width="1.3"/>
<line x1="417.30" y1="77.80" x2="417.30" y2="99.80" stroke="#1e7d1e" stroke-width="1.3"/>
<rect x="415.30" y="73.20" width="4.00" height="4.00" rx="0.6" fill="none" stroke="#1e7d1e" stroke-width="1.2"/>
<line x1="421.16" y1="69.80" x2="422.60" y2="69.80" stroke="#1e7d1e" stroke-width="1.3"/>
<line x1="427.80" y1="69.80" x2="428.99" y2="69.80" stroke="#1e7d1e" stroke-width="1.3"/>
<line x1="425.20" y1="64.90" x2="425.20" y2="67.20" stroke="#1e7d1e" stroke-width="1.3"/>
<line x1="425.20" y1="72.40" x2="425.20" y2="77.70" stroke="#1e7d1e" stroke-width="1.3"/>
<rect x="423.20" y="67.80" width="4.00" height="4.00" rx="0.6" fill="none" stroke="#1e7d1e" stroke-width="1.2"/>
<line x1="428.99" y1="84.70" x2="430.00" y2="84.70" stroke="#1e7d1e" stroke-width="1.3"/>
<line x1="435.20" y1="84.70" x2="436.81" y2="84.70" stroke="#1e7d1e" stroke-width="1.3"/>
<line x1="432.60" y1="77.30" x2="432.60" y2="82.10" stroke="#1e7d1e" stroke-width="1.3"/>
<line x1="432.60" y1="87.30" x2="432.60" y2="95.30" stroke="#1e7d1e" stroke-width="1.3"/>
<rect x="430.60" y="82.70" width="4.00" height="4.00" rx="0.6" fill="none" stroke="#1e7d1e" stroke-width="1.2"/>
<line x1="436.81" y1="86.80" x2="438.10" y2="86.80" stroke="#1e7d1e" stroke-width="1.3"/>
<line x1="443.30" y1="86.80" x2="444.64" y2="86.80" stroke="#1e7d1e" stroke-width="1.3"/>
<line x1="440.70" y1="81.40" x2="440.70" y2="84.20" stroke="#1e7d1e" stroke-width="1.3"/>
<line x1="440.70" y1="89.40" x2="440.70" y2="95.30" stroke="#1e7d1e" stroke-width="1.3"/>
<rect x="438.70" y="84.80" width="4.00" height="4.00" rx="0.6" fill="none" stroke="#1e7d1e" stroke-width="1.2"/>
<line x1="444.64" y1="87.50" x2="448.90" y2="87.50" stroke="#1e7d1e" stroke-width="1.3"/>
<line x1="454.10" y1="87.50" x2="460.30" y2="87.50" stroke="#1e7d1e" stroke-width="1.3"/>
<line x1="451.50" y1="90.10" x2="451.50" y2="91.20" stroke="#1e7d1e" stroke-width="1.3"/>
<rect x="449.50" y="85.50" width="4.00" height="4.00" rx="0.6" fill="none" stroke="#1e7d1e" stroke-width="1.2"/>
<line x1="460.30" y1="119.00" x2="464.90" y2="119.00" stroke="#1e7d1e" stroke-width="1.3"/>
<line x1="470.10" y1="119.00" x2="475.96" y2="119.00" stroke="#1e7d1e" stroke-width="1.3"/>
<line x1="467.50" y1="109.60" x2="467.50" y2="116.40" stroke="#1e7d1e" stroke-width="1.3"/>
<line x1="467.50" y1="121.60" x2="467.50" y2="130.00" stroke="#1e7d1e" stroke-width="1.3"/>
<rect x="465.50" y="117.00" width="4.00" height="4.00" rx="0.6" fill="none" stroke="#1e7d1e" stroke-width="1.2"/>
<line x1="475.96" y1="120.00" x2="486.30" y2="120.00" stroke="#1e7d1e" stroke-width="1.3"/>
<line x1="491.50" y1="120.00" x2="507.27" y2="120.00" stroke="#1e7d1e" stroke-width="1.3"/>
<line x1="488.90" y1="116.10" x2="488.90" y2="117.40" stroke="#1e7d1e" stroke-width="1.3"/>
<line x1="488.90" y1="122.60" x2="488.90" y2="125.40" stroke="#1e7d1e" stroke-width="1.3"/>
<rect x="486.90" y="118.00" width="4.00" height="4.00" rx="0.6" fill="none" stroke="#1e7d1e" stroke-width="1.2"/>
<line x1="507.27" y1="182.70" x2="541.20" y2="182.70" stroke="#1e7d1e" stroke-width="1.3"/>
<line x1="546.40" y1="182.70" x2="663.84" y2="182.70" stroke="#1e7d1e" stroke-width="1.3"/>
<line x1="543.80" y1="175.30" x2="543.80" y2="180.10" stroke="#1e7d1e" stroke-width="1.3"/>
<line x1="543.80" y1="185.30" x2="543.80" y2="192.80" stroke="#1e7d1e" stroke-width="1.3"/>
<rect x="541.80" y="180.70" width="4.00" height="4.00" rx="0.6" fill="none" stroke="#1e7d1e" stroke-width="1.2"/>
<line x1="413.33" y1="39.70" x2="421.16" y2="39.70" stroke="#640064" stroke-width="1.3"/>
<line x1="417.60" y1="34.80" x2="417.60" y2="45.20" stroke="#640064" stroke-width="1.3"/>
<ellipse cx="417.60" cy="39.70" rx="2.6" ry="2.2" fill="#640064"/>
<line x1="421.16" y1="50.80" x2="428.99" y2="50.80" stroke="#640064" stroke-width="1.3"/>
<line x1="425.00" y1="46.50" x2="425.00" y2="56.50" stroke="#640064" stroke-width="1.3"/>
<ellipse cx="425.00" cy="50.80" rx="2.6" ry="2.2" fill="#640064"/>
<line x1="428.99" y1="59.10" x2="436.81" y2="59.10" stroke="#640064" stroke-width="1.3"/>
<line x1="432.80" y1="55.00" x2="432.80" y2="64.30" stroke="#640064" stroke-width="1.3"/>
<ellipse cx="432.80" cy="59.10" rx="2.6" ry="2.2" fill="#640064"/>
<line x1="436.81" y1="76.50" x2="444.64" y2="76.50" stroke="#640064" stroke-width="1.3"/>
<line x1="440.70" y1="71.60" x2="440.70" y2="81.40" stroke="#640064" stroke-width="1.3"/>
<ellipse cx="440.70" cy="76.50" rx="2.6" ry="2.2" fill="#640064"/>
<line x1="444.64" y1="83.60" x2="460.30" y2="83.60" stroke="#640064" stroke-width="1.3"/>
<line x1="451.50" y1="80.60" x2="451.50" y2="86.30" stroke="#640064" stroke-width="1.3"/>
<ellipse cx="451.50" cy="83.60" rx="2.6" ry="2.2" fill="#640064"/>
<line x1="460.30" y1="106.30" x2="475.96" y2="106.30" stroke="#640064" stroke-width="1.3"/>
<line x1="467.70" y1="101.10" x2="467.70" y2="111.40" stroke="#640064" stroke-width="1.3"/>
<ellipse cx="467.70" cy="106.30" rx="2.6" ry="2.2" fill="#640064"/>
<line x1="475.96" y1="135.20" x2="507.27" y2="135.20" stroke="#640064" stroke-width="1.3"/>
<line x1="488.90" y1="129.10" x2="488.90" y2="143.40" stroke="#640064" stroke-width="1.3"/>
<ellipse cx="488.90" cy="135.20" rx="2.6" ry="2.2" fill="#640064"/>
<line x1="507.27" y1="172.20" x2="663.84" y2="172.20" stroke="#640064" stroke-width="1.3"/>
<line x1="543.80" y1="167.00" x2="543.80" y2="177.00" stroke="#640064" stroke-width="1.3"/>
<ellipse cx="543.80" cy="172.20" rx="2.6" ry="2.2" fill="#640064"/>
<text x="173.20" y="24.90" font-size="12" text-anchor="start" font-weight="bold" font-style="italic">ATLAS</text>
<text x="173.20" y="43.20" font-size="8.8" text-anchor="start" letter-spacing="0.1"><tspan font-style="italic">p</tspan>+Pb</text>
<path d="M197.70,41.0 L198.60,39.6 L200.70,46.0 L202.60,35.2 L215.80,35.2" fill="none" stroke="#000" stroke-width="0.85" stroke-linejoin="miter"/>
<path d="M198.60,39.6 L200.70,46.0" fill="none" stroke="#000" stroke-width="1.4"/>
<text transform="translate(201.70 42.80) scale(1.1 1)" font-size="8.8" text-anchor="start" ><tspan font-style="italic">s</tspan></text>
<text transform="translate(206.90 46.10) scale(1.17 1)" font-size="5.8" text-anchor="start" >NN</text>
<text transform="translate(218.40 43.60) scale(1.055 1)" font-size="8.8" text-anchor="start" letter-spacing="0.0">= 5.02 TeV, L = 28 nb<tspan font-size="6.4" dy="-3.8">-1</tspan></text>
<text transform="translate(173.00 57.40) scale(1.04 1)" font-size="8.7" text-anchor="start" word-spacing="0.55">-2.0 &lt; <tspan font-style="italic">y</tspan><tspan font-size="6.4" dy="-3.5">*</tspan><tspan dy="3.5"> &lt; 1.5</tspan></text>
<line x1="167.90" y1="70.00" x2="179.10" y2="70.00" stroke="#00006e" stroke-width="1.3"/>
<line x1="173.60" y1="65.70" x2="173.60" y2="74.60" stroke="#00006e" stroke-width="1.3"/>
<ellipse cx="173.60" cy="70.00" rx="2.6" ry="2.2" fill="#00006e"/>
<line x1="167.90" y1="85.10" x2="171.00" y2="85.10" stroke="#8c1414" stroke-width="1.3"/>
<line x1="176.20" y1="85.10" x2="179.10" y2="85.10" stroke="#8c1414" stroke-width="1.3"/>
<line x1="173.60" y1="80.80" x2="173.60" y2="82.50" stroke="#8c1414" stroke-width="1.3"/>
<line x1="173.60" y1="87.70" x2="173.60" y2="90.10" stroke="#8c1414" stroke-width="1.3"/>
<rect x="171.60" y="83.10" width="4.00" height="4.00" rx="0.6" fill="none" stroke="#8c1414" stroke-width="1.2"/>
<text transform="translate(180.30 73.00) scale(1.03 1)" font-size="9" text-anchor="start" >Prompt J/&#968;</text>
<text transform="translate(180.30 88.60) scale(1.03 1)" font-size="9" text-anchor="start" >Non-prompt J/&#968;</text>
<text x="524.40" y="24.90" font-size="12" text-anchor="start" font-weight="bold" font-style="italic">ATLAS</text>
<text x="524.40" y="43.20" font-size="8.8" text-anchor="start" letter-spacing="0.1"><tspan font-style="italic">p</tspan>+Pb</text>
<path d="M548.90,41.0 L549.80,39.6 L551.90,46.0 L553.80,35.2 L567.00,35.2" fill="none" stroke="#000" stroke-width="0.85" stroke-linejoin="miter"/>
<path d="M549.80,39.6 L551.90,46.0" fill="none" stroke="#000" stroke-width="1.4"/>
<text transform="translate(552.90 42.80) scale(1.1 1)" font-size="8.8" text-anchor="start" ><tspan font-style="italic">s</tspan></text>
<text transform="translate(558.10 46.10) scale(1.17 1)" font-size="5.8" text-anchor="start" >NN</text>
<text transform="translate(569.60 43.60) scale(1.055 1)" font-size="8.8" text-anchor="start" letter-spacing="0.0">= 5.02 TeV, L = 28 nb<tspan font-size="6.4" dy="-3.8">-1</tspan></text>
<text transform="translate(524.20 57.40) scale(1.04 1)" font-size="8.7" text-anchor="start" word-spacing="0.55">-2.0 &lt; <tspan font-style="italic">y</tspan><tspan font-size="6.4" dy="-3.5">*</tspan><tspan dy="3.5"> &lt; 1.5</tspan></text>
<line x1="519.10" y1="70.00" x2="530.30" y2="70.00" stroke="#640064" stroke-width="1.3"/>
<line x1="524.80" y1="65.70" x2="524.80" y2="74.60" stroke="#640064" stroke-width="1.3"/>
<ellipse cx="524.80" cy="70.00" rx="2.6" ry="2.2" fill="#640064"/>
<line x1="519.10" y1="85.10" x2="522.20" y2="85.10" stroke="#1e7d1e" stroke-width="1.3"/>
<line x1="527.40" y1="85.10" x2="530.30" y2="85.10" stroke="#1e7d1e" stroke-width="1.3"/>
<line x1="524.80" y1="80.80" x2="524.80" y2="82.50" stroke="#1e7d1e" stroke-width="1.3"/>
<line x1="524.80" y1="87.70" x2="524.80" y2="90.10" stroke="#1e7d1e" stroke-width="1.3"/>
<rect x="522.80" y="83.10" width="4.00" height="4.00" rx="0.6" fill="none" stroke="#1e7d1e" stroke-width="1.2"/>
<text transform="translate(531.50 73.00) scale(1.03 1)" font-size="9" text-anchor="start" >Prompt &#968;(2S)</text>
<text transform="translate(531.50 88.60) scale(1.03 1)" font-size="9" text-anchor="start" >Non-prompt &#968;(2S)</text>
</g>
</svg></body></html>
